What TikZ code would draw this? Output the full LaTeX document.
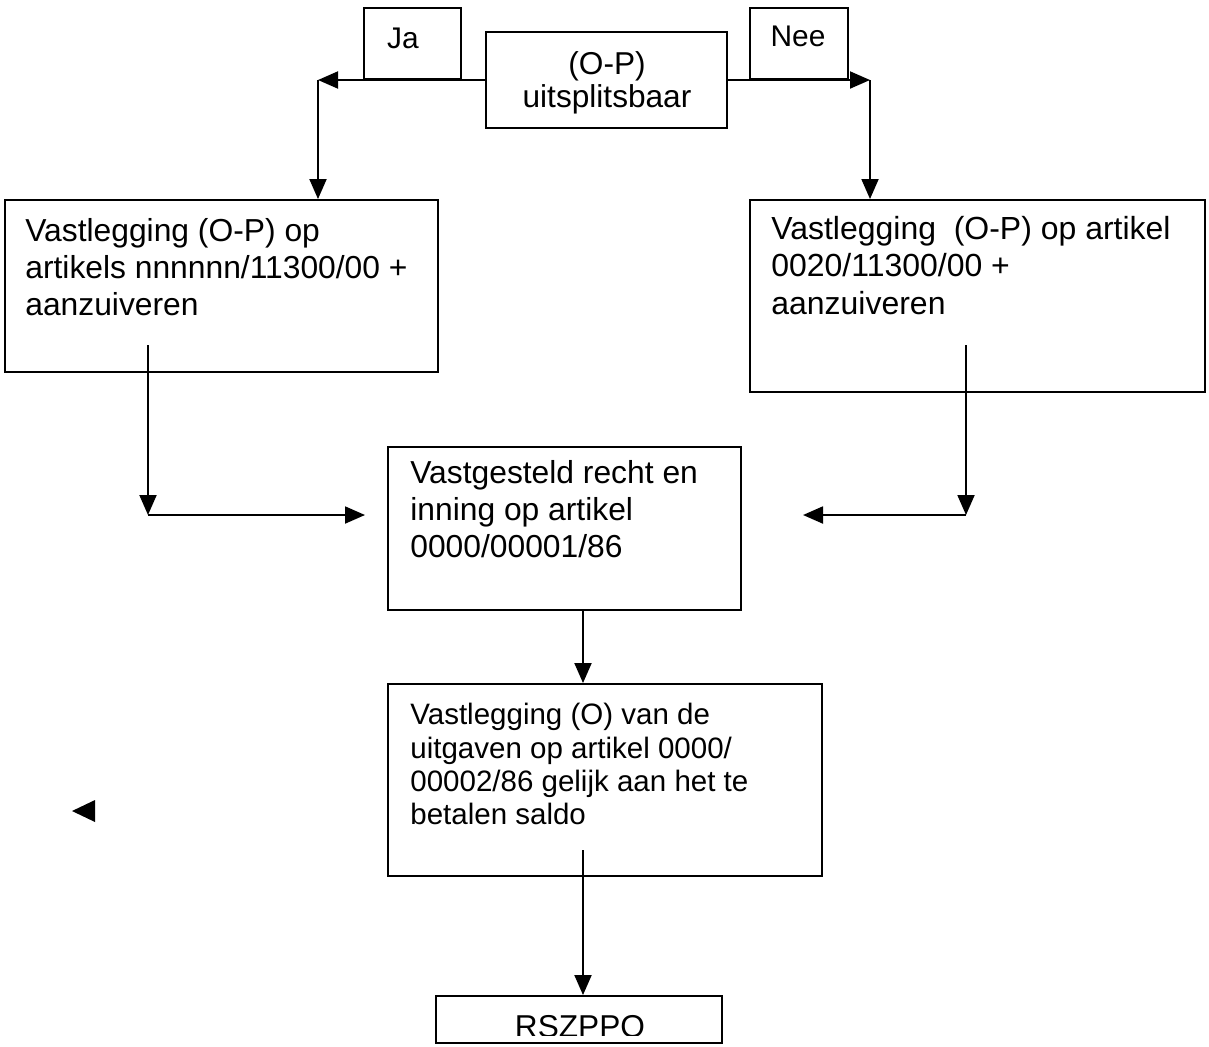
\documentclass[tikz,border=0pt]{standalone}
\usepackage{fontspec}
\setmainfont{Liberation Sans}
\usetikzlibrary{arrows.meta,fit}
\begin{document}
\begin{tikzpicture}[x=0.02cm,y=-0.02cm,
  lw/.style={line width=1.1pt},
  box/.style={draw,lw,inner sep=0pt},
  txt/.style={anchor=north west,align=left,inner sep=0pt},
  arr/.style={lw,-{Triangle[length=0.4cm,width=0.34cm]}},
]
\useasboundingbox (0,0) rectangle (1209,1046);
% boxes
\node[box,fit={(364,8)(461,79)}] (ja) {};
\node[box,fit={(750,8)(848,79)}] (nee) {};
\node[box,fit={(486,32)(727,128)}] (q) {};
\node[box,fit={(5,200)(438,372)}] (b1) {};
\node[box,fit={(750,200)(1205,392)}] (b2) {};
\node[box,fit={(388,447)(741,610)}] (b3) {};
\node[box,fit={(388,684)(822,876)}] (b4) {};
\node[box,fit={(436,996)(722,1043)}] (b5) {};
% texts
\node[font=\fontsize{18}{18.5}\selectfont,align=center,inner sep=0pt] (qt) at (607,83) {(O-P)\\uitsplitsbaar};
\node[font=\fontsize{17}{17}\selectfont,inner sep=0pt] (jat) at (403,38) {Ja};
\node[font=\fontsize{17}{17}\selectfont,inner sep=0pt] (neet) at (798,36) {Nee};
\node[txt,font=\fontsize{18.1}{21.2}\selectfont] (t1) at (25,218) {Vastlegging (O-P) op\\artikels nnnnnn/11300/00 +\\aanzuiveren};
\node[txt,font=\fontsize{18.2}{21.2}\selectfont] (t2) at (771,216) {Vastlegging\ \ (O-P) op artikel\\0020/11300/00 +\\aanzuiveren};
\node[txt,font=\fontsize{18.1}{21.2}\selectfont] (t3) at (410,460) {Vastgesteld recht en\\inning op artikel\\0000/00001/86};
\node[txt,font=\fontsize{16.8}{19}\selectfont] (t4) at (410,703) {Vastlegging (O) van de\\uitgaven op artikel 0000/\\00002/86 gelijk aan het te\\betalen saldo};
\begin{scope}
\clip (b5.north west) rectangle (722,1035);
\node[font=\fontsize{18}{18}\selectfont,inner sep=0pt,anchor=north] (t5) at (580,1015) {RSZPPO};
\end{scope}
% connectors
\coordinate (jL) at (318,80);
\coordinate (nR) at (870,80);
\draw[arr] (q.west) -- (jL);
\draw[arr] (jL) -- (jL |- b1.north);
\draw[arr] (q.east) -- (nR);
\draw[arr] (nR) -- (nR |- b2.north);
\coordinate (l1) at (148,345);
\coordinate (l2) at (148,515);
\coordinate (l3) at (365,515);
\draw[arr] (l1) -- (l2);
\draw[arr] (l2) -- (l3);
\coordinate (r1) at (966,345);
\coordinate (r2) at (966,515);
\coordinate (r3) at (803,515);
\draw[arr] (r1) -- (r2);
\draw[arr] (r2) -- (r3);
\coordinate (m) at (583,0);
\draw[arr] (b3.south -| m) -- (b4.north -| m);
\coordinate (m2) at (583,850);
\draw[arr] (m2) -- (b5.north -| m);
% stray triangle
\fill (72,811) -- (95,800) -- (95,822) -- cycle;
\end{tikzpicture}
\end{document}
